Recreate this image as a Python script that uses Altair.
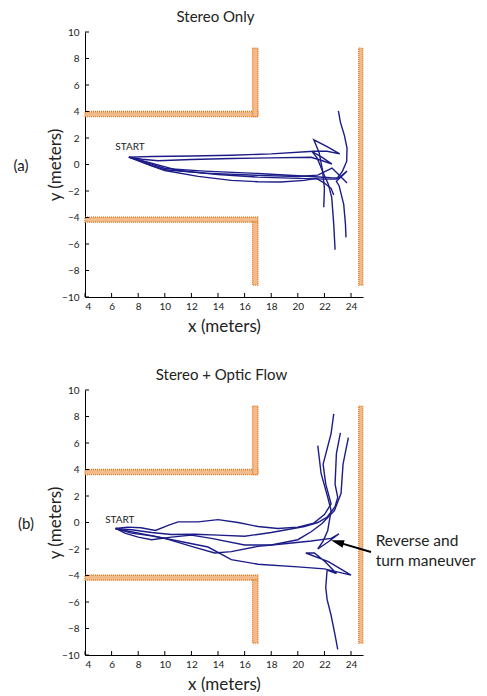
import altair as alt
import pandas as pd

X_TICKS = list(range(4, 25, 2))
Y_TICKS = list(range(-10, 11, 2))

# wall rectangles (meters)
WALL_X1 = [4.0, 16.6, 4.0, 16.6, 24.58]
WALL_X2 = [17.0, 17.0, 17.0, 17.0, 24.88]
WALL_Y1 = [3.62, 3.62, -4.35, -9.1, -9.1]
WALL_Y2 = [4.0, 8.78, -3.97, -4.35, 8.78]

# Panel (a): Stereo only trajectories
TOP_T1 = [(7.3, 0.56), (9, 0.6), (12, 0.64), (15, 0.7), (18, 0.8), (21.2, 1.0), (22.2, 1.0), (23.15, 0.8),
          (22.2, 1.35), (21.2, 1.86), (21.6, 0.9), (21.85, -0.4), (22.0, -1.8), (21.95, -3.23)]
TOP_T2 = [(7.3, 0.56), (8.3, 0.4), (9.5, 0.28), (12, 0.38), (15, 0.45), (18, 0.5), (21.0, 0.55), (21.8, 0.3),
          (22.57, 0.03), (21.8, 0.55), (21.07, 0.98), (21.45, 0.5), (21.9, -0.6), (22.3, -1.5), (22.55, -2.5),
          (22.7, -4.5), (22.8, -6.43)]
TOP_T3 = [(7.3, 0.56), (8.5, 0.2), (10, -0.3), (13, -0.5), (17, -0.68), (20, -0.85), (22.5, -1.0), (23.07, -1.02),
          (23.7, -0.5), (22.9, -1.27), (23.1, -1.6), (23.45, -3.0), (23.58, -4.5), (23.62, -5.5)]
TOP_T4 = [(7.3, 0.56), (8.8, 0.0), (10, -0.4), (13, -0.65), (17, -0.82), (20, -0.9), (21.5, -0.8), (22.57, -0.27),
          (23.1, -0.8), (23.7, -1.4)]
TOP_T5 = [(7.3, 0.56), (9, -0.1), (10, -0.45), (12.5, -0.9), (15, -1.2), (17, -1.3), (18.7, -1.32), (20.5, -1.2),
          (21.4, -1.05), (22.0, -1.4), (22.5, -1.8), (22.7, -2.3)]
TOP_T6 = [(7.3, 0.56), (9, 0.1), (11, -0.45), (14, -0.75), (17, -0.95), (20, -1.05), (22.0, -1.1), (22.9, -1.1),
          (23.35, -0.52), (23.67, 0.23), (23.7, 1.24), (23.5, 2.2), (23.2, 3.2), (23.05, 4.05)]

# Panel (b): Stereo + Optic Flow trajectories
BOT_T1 = [(6.3, -0.45), (7.2, -0.35), (8.2, -0.4), (9.3, -0.6), (10.3, -0.2), (11.0, 0.05), (12.5, 0.05),
          (14.0, 0.22), (15.5, 0.0), (17, -0.3), (18.5, -0.45), (20, -0.35), (21.2, -0.05), (22.0, 0.6),
          (22.5, 1.4), (22.1, 2.9), (21.9, 4.4), (22.5, 6.7), (22.7, 8.2)]
BOT_T2 = [(6.3, -0.45), (7.5, -0.55), (9, -0.75), (10.5, -0.9), (12.25, -0.89), (14, -0.95), (16, -1.04),
          (18, -0.75), (20.5, -0.3), (21.5, 0.0), (22.2, 0.4), (22.8, 1.2), (23.0, 1.9), (22.8, 2.9), (22.9, 5.2),
          (23.2, 6.76)]
BOT_T3 = [(6.3, -0.45), (7, -0.8), (8, -1.1), (9, -1.3), (10.5, -1.1), (12, -0.95), (13.5, -1.2), (16, -1.7),
          (18, -1.7), (20, -1.3), (21.0, -0.7), (21.8, -0.1), (22.75, 0.9), (23.25, 2.2), (23.4, 4.4), (23.8, 6.4)]
BOT_T4 = [(6.3, -0.45), (7, -0.6), (8.5, -0.9), (10, -1.2), (12, -1.8), (13.75, -2.3), (15, -2.2), (17, -1.8),
          (19, -1.6), (21, -1.4), (22.5, -1.2), (23.1, -0.85), (22.3, -1.45), (21.5, -2.0), (21.9, -1.4),
          (22.25, -0.6), (22.5, 0.9), (22.25, 1.9), (21.75, 3.7), (21.5, 5.8)]
BOT_T5 = [(6.3, -0.45), (7.5, -0.8), (9, -1.0), (11, -1.4), (13.25, -1.85), (15, -2.8), (17, -3.15), (20, -3.35),
          (22, -3.5), (24.0, -3.97), (22.3, -2.95), (20.6, -2.3), (21.25, -2.3), (22.1, -3.0), (22.9, -3.85),
          (22.2, -3.6), (22.1, -4.9), (22.2, -5.8), (22.5, -7.0), (22.8, -8.5), (23.0, -9.57)]

TOP_TRAJS = {"t1": TOP_T1, "t2": TOP_T2, "t3": TOP_T3, "t4": TOP_T4, "t5": TOP_T5, "t6": TOP_T6}
BOT_TRAJS = {"b1": BOT_T1, "b2": BOT_T2, "b3": BOT_T3, "b4": BOT_T4, "b5": BOT_T5}

TOP_START = (7.38, 1.29)
BOT_START = (6.62, 0.21)

ANNOT_LINES = ["Reverse and", "turn maneuver"]
ANNOT_X = [25.85, 25.85]
ANNOT_Y = [-1.42, -2.92]
ARROW_FROM = (25.5, -2.22)
ARROW_HEAD = (22.97, -1.48)

W, H = 278, 265
LINE_COLOR = "#1c1c88"
FONT = "Lato"

xs = alt.Scale(domain=[4, 24.9], nice=False, zero=False)
ys = alt.Scale(domain=[-10, 10], nice=False, zero=False)

X_AXIS = alt.Axis(values=X_TICKS, title="x (meters)", grid=False, ticks=False, tickSize=0,
                  labelPadding=4, titlePadding=7, domainColor="black", labelFontSize=10,
                  titleFontSize=17, labelOverlap=False)
Y_AXIS = alt.Axis(values=Y_TICKS, title="y (meters)", grid=False, ticks=False, tickSize=0,
                  labelPadding=6, titleX=-21, titleY=H / 2, domainColor="black", labelFontSize=10,
                  titleFontSize=17, labelOverlap=False)

walls_df = pd.DataFrame({"x1": WALL_X1, "x2": WALL_X2, "y1": WALL_Y1, "y2": WALL_Y2})


def traj_df(trajs):
    rows = []
    for name, pts in trajs.items():
        for i, (x, y) in enumerate(pts):
            rows.append({"traj": name, "i": i, "x": x, "y": y})
    return pd.DataFrame(rows)


def X(field):
    return alt.X(field, scale=xs, axis=X_AXIS)


def Y(field):
    return alt.Y(field, scale=ys, axis=Y_AXIS)


def panel(trajs, title, title_x, letter, letter_x, start_xy, annotate=False):
    walls = alt.Chart(walls_df).mark_rect(
        fill="#f2bb8c", stroke="#e27214", strokeWidth=1.3, strokeDash=[1, 1]
    ).encode(x=X("x1:Q"), x2="x2:Q", y=Y("y1:Q"), y2="y2:Q")
    lines = alt.Chart(traj_df(trajs)).mark_line(
        color=LINE_COLOR, strokeWidth=1.4
    ).encode(x=X("x:Q"), y=Y("y:Q"), detail="traj:N", order="i:Q")
    xt = alt.Chart(pd.DataFrame({"v": X_TICKS})).mark_rule(color="black").encode(
        x=X("v:Q"), y=alt.value(H), y2=alt.value(H - 4))
    yt = alt.Chart(pd.DataFrame({"v": Y_TICKS})).mark_rule(color="black").encode(
        y=Y("v:Q"), x=alt.value(0), x2=alt.value(4))
    start = alt.Chart(pd.DataFrame({"t": ["START"], "x": [start_xy[0]], "y": [start_xy[1]]})).mark_text(
        font=FONT, fontSize=10, color="#222"
    ).encode(x=X("x:Q"), y=Y("y:Q"), text="t:N")
    let = alt.Chart(pd.DataFrame({"t": [letter]})).mark_text(
        font=FONT, fontSize=15, color="#222"
    ).encode(text="t:N", x=alt.value(letter_x), y=alt.value(134))
    ttl = alt.Chart(pd.DataFrame({"t": [title]})).mark_text(
        font=FONT, fontSize=15, color="#222", baseline="middle"
    ).encode(text="t:N", x=alt.value(title_x), y=alt.value(-15))
    layers = [walls, lines, xt, yt, start, let, ttl]
    if annotate:
        arrow_line = alt.Chart(pd.DataFrame({
            "x": [ARROW_FROM[0]], "y": [ARROW_FROM[1]], "x2": [ARROW_HEAD[0]], "y2": [ARROW_HEAD[1]]
        })).mark_rule(color="black", strokeWidth=2).encode(
            x=X("x:Q"), y=Y("y:Q"), x2="x2:Q", y2="y2:Q")
        head = alt.Chart(pd.DataFrame({"x": [ARROW_HEAD[0]], "y": [ARROW_HEAD[1]]})).mark_point(
            shape="M0,-1L0.6,1L-0.6,1Z", filled=True, fill="black", color="black",
            size=169, angle=286, opacity=1
        ).encode(x=X("x:Q"), y=Y("y:Q"))
        txt = alt.Chart(pd.DataFrame({"t": ANNOT_LINES, "x": ANNOT_X, "y": ANNOT_Y})).mark_text(
            font=FONT, fontSize=15.5, align="left", baseline="middle", color="#222"
        ).encode(x=X("x:Q"), y=Y("y:Q"), text="t:N")
        layers += [arrow_line, head, txt]
    return alt.layer(*layers).properties(width=W, height=H)


top = panel(TOP_TRAJS, "Stereo Only", 130.5, "(a)", -64, TOP_START)
bottom = panel(BOT_TRAJS, "Stereo  + Optic Flow", 136.5, "(b)", -59, BOT_START, annotate=True)

chart = alt.vconcat(top, bottom, spacing=34).properties(
    padding={"left": 5, "right": 0, "top": 2, "bottom": 0}
).configure_view(stroke=None).configure_axis(
    labelFont=FONT, titleFont=FONT, labelColor="#222", titleColor="#222", titleFontWeight="normal",
    labelOverlap=False
)

chart.save("out.html", embed_options={"renderer": "svg", "actions": False})
